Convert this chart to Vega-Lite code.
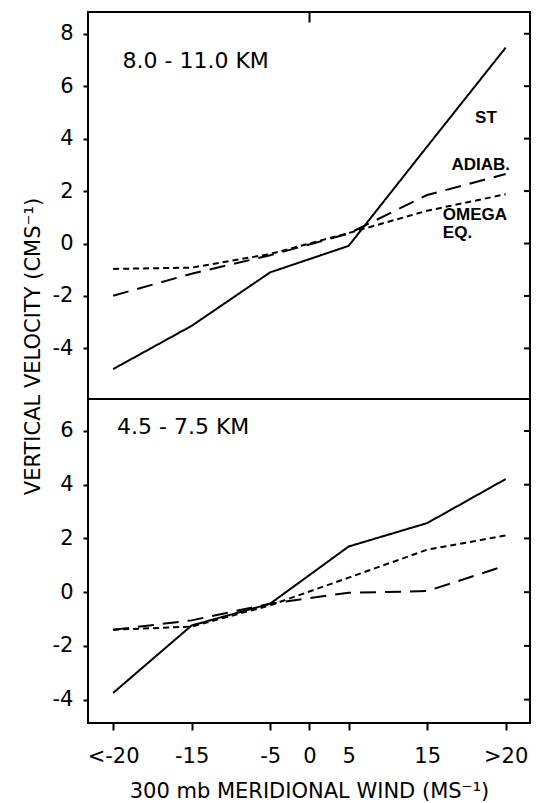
{
  "$schema": "https://vega.github.io/schema/vega-lite/v6.json",
  "padding": {"left": 21, "top": 10, "right": 8, "bottom": 2},
  "spacing": 0,
  "bounds": "flush",
  "config": {
    "view": {"stroke": "black", "strokeWidth": 2},
    "axis": {
      "labelFont": "DejaVu Sans", "labelFontSize": 21, "labelColor": "black",
      "titleFont": "DejaVu Sans", "titleFontSize": 21, "titleFontWeight": "normal", "titleColor": "black",
      "tickColor": "black", "tickWidth": 2, "domain": false, "grid": false
    },
    "text": {"font": "DejaVu Sans", "color": "black"}
  },
  "datasets": {
    "top": [
      {"method": "ST", "wind": "<-20", "xi": 0, "w": -4.79},
      {"method": "ST", "wind": "-15", "xi": 1, "w": -3.14},
      {"method": "ST", "wind": "-5", "xi": 2, "w": -1.10},
      {"method": "ST", "wind": "5", "xi": 3, "w": -0.09},
      {"method": "ST", "wind": "15", "xi": 4, "w": 3.70},
      {"method": "ST", "wind": ">20", "xi": 5, "w": 7.47},
      {"method": "ADIAB", "wind": "<-20", "xi": 0, "w": -1.99},
      {"method": "ADIAB", "wind": "-15", "xi": 1, "w": -1.15},
      {"method": "ADIAB", "wind": "-5", "xi": 2, "w": -0.45},
      {"method": "ADIAB", "wind": "5", "xi": 3, "w": 0.38},
      {"method": "ADIAB", "wind": "15", "xi": 4, "w": 1.85},
      {"method": "ADIAB", "wind": ">20", "xi": 5, "w": 2.65},
      {"method": "OMEGA", "wind": "<-20", "xi": 0, "w": -0.97},
      {"method": "OMEGA", "wind": "-15", "xi": 1, "w": -0.92},
      {"method": "OMEGA", "wind": "-5", "xi": 2, "w": -0.40},
      {"method": "OMEGA", "wind": "5", "xi": 3, "w": 0.40},
      {"method": "OMEGA", "wind": "15", "xi": 4, "w": 1.25},
      {"method": "OMEGA", "wind": ">20", "xi": 5, "w": 1.88}
    ],
    "bot": [
      {"method": "ST", "wind": "<-20", "xi": 0, "w": -3.75},
      {"method": "ST", "wind": "-15", "xi": 1, "w": -1.24},
      {"method": "ST", "wind": "-5", "xi": 2, "w": -0.43},
      {"method": "ST", "wind": "5", "xi": 3, "w": 1.70},
      {"method": "ST", "wind": "15", "xi": 4, "w": 2.57},
      {"method": "ST", "wind": ">20", "xi": 5, "w": 4.21},
      {"method": "ADIAB", "wind": "<-20", "xi": 0, "w": -1.40},
      {"method": "ADIAB", "wind": "-15", "xi": 1, "w": -1.05},
      {"method": "ADIAB", "wind": "-5", "xi": 2, "w": -0.43},
      {"method": "ADIAB", "wind": "5", "xi": 3, "w": -0.02},
      {"method": "ADIAB", "wind": "15", "xi": 4, "w": 0.04},
      {"method": "ADIAB", "wind": ">20", "xi": 5, "w": 0.99},
      {"method": "OMEGA", "wind": "<-20", "xi": 0, "w": -1.40},
      {"method": "OMEGA", "wind": "-15", "xi": 1, "w": -1.28},
      {"method": "OMEGA", "wind": "-5", "xi": 2, "w": -0.49},
      {"method": "OMEGA", "wind": "5", "xi": 3, "w": 0.54},
      {"method": "OMEGA", "wind": "15", "xi": 4, "w": 1.58},
      {"method": "OMEGA", "wind": ">20", "xi": 5, "w": 2.11}
    ],
    "topTicks": [{"t": -4}, {"t": -2}, {"t": 0}, {"t": 2}, {"t": 4}, {"t": 6}, {"t": 8}],
    "botTicks": [{"t": -4}, {"t": -2}, {"t": 0}, {"t": 2}, {"t": 4}, {"t": 6}],
    "topTitle": [{"text": "8.0 - 11.0 KM", "xi": 0.12, "w": 6.96}],
    "botTitle": [{"text": "4.5 - 7.5 KM", "xi": 0.05, "w": 6.14}],
    "curveLabels": [
      {"text": "ST", "xi": 4.61, "w": 4.77},
      {"text": "ADIAB.", "xi": 4.31, "w": 2.98},
      {"text": "OMEGA", "xi": 4.2, "w": 1.10},
      {"text": "EQ.", "xi": 4.2, "w": 0.40}
    ]
  },
  "vconcat": [
    {
      "width": 442,
      "height": 387,
      "layer": [
        {
          "data": {"name": "top"},
          "mark": {"type": "line", "strokeWidth": 2, "color": "black"},
          "encoding": {
            "x": {"field": "xi", "type": "quantitative",
              "scale": {"domain": [-0.32, 5.31], "nice": false, "zero": false},
              "axis": {"orient": "top", "values": [2.5], "labels": false, "tickSize": 10, "offset": -10, "title": null}},
            "y": {"field": "w", "type": "quantitative",
              "scale": {"domain": [-5.93, 8.83], "nice": false, "zero": false},
              "axis": {"orient": "left", "values": [-4, -2, 0, 2, 4, 6, 8], "tickSize": 5, "labelPadding": 10,
                "labelExpr": "datum.value < 0 ? '-' + abs(datum.value) : '' + datum.value",
                "title": "VERTICAL VELOCITY (CMS⁻¹)", "titleX": -55, "titleY": 334, "titleAngle": -90,
                "titleAlign": "center", "titleBaseline": "middle"}},
            "strokeDash": {"field": "method", "type": "nominal",
              "scale": {"domain": ["ST", "ADIAB", "OMEGA"], "range": [[1, 0], [16, 9], [6, 4]]}, "legend": null}
          }
        },
        {
          "mark": {"type": "rule", "strokeWidth": 1.5, "color": "black"},
          "encoding": {"y": {"datum": 0}}
        },
        {
          "data": {"name": "topTicks"},
          "mark": {"type": "rule", "strokeWidth": 2, "color": "black"},
          "encoding": {
            "x": {"datum": 5.234},
            "x2": {"datum": 5.31},
            "y": {"field": "t", "type": "quantitative"}
          }
        },
        {
          "data": {"name": "topTitle"},
          "mark": {"type": "text", "align": "left", "baseline": "middle", "fontSize": 22},
          "encoding": {
            "x": {"field": "xi", "type": "quantitative"},
            "y": {"field": "w", "type": "quantitative"},
            "text": {"field": "text"}
          }
        },
        {
          "data": {"name": "curveLabels"},
          "mark": {"type": "text", "align": "left", "baseline": "middle", "fontSize": 17, "font": "Liberation Sans", "fontWeight": "bold"},
          "encoding": {
            "x": {"field": "xi", "type": "quantitative"},
            "y": {"field": "w", "type": "quantitative"},
            "text": {"field": "text"}
          }
        }
      ]
    },
    {
      "width": 442,
      "height": 324,
      "layer": [
        {
          "data": {"name": "bot"},
          "mark": {"type": "line", "strokeWidth": 2, "color": "black"},
          "encoding": {
            "x": {"field": "xi", "type": "quantitative",
              "scale": {"domain": [-0.32, 5.31], "nice": false, "zero": false},
              "axis": {"orient": "bottom", "values": [0, 1, 2, 2.5, 3, 4, 5], "tickSize": 7, "labelPadding": 15, "titlePadding": 14,
                "labelExpr": "datum.value == 0 ? '<-20' : datum.value == 1 ? '-15' : datum.value == 2 ? '-5' : datum.value == 2.5 ? '0' : datum.value == 3 ? '5' : datum.value == 4 ? '15' : '>20'",
                "title": "300 mb MERIDIONAL WIND (MS⁻¹)"}},
            "y": {"field": "w", "type": "quantitative",
              "scale": {"domain": [-4.87, 7.19], "nice": false, "zero": false},
              "axis": {"orient": "left", "values": [-4, -2, 0, 2, 4, 6], "tickSize": 5, "labelPadding": 10, "title": null,
                "labelExpr": "datum.value < 0 ? '-' + abs(datum.value) : '' + datum.value"}},
            "strokeDash": {"field": "method", "type": "nominal",
              "scale": {"domain": ["ST", "ADIAB", "OMEGA"], "range": [[1, 0], [16, 9], [6, 4]]}, "legend": null}
          }
        },
        {
          "mark": {"type": "rule", "strokeWidth": 1.5, "color": "black"},
          "encoding": {"y": {"datum": 0}}
        },
        {
          "data": {"name": "botTicks"},
          "mark": {"type": "rule", "strokeWidth": 2, "color": "black"},
          "encoding": {
            "x": {"datum": 5.234},
            "x2": {"datum": 5.31},
            "y": {"field": "t", "type": "quantitative"}
          }
        },
        {
          "data": {"name": "botTitle"},
          "mark": {"type": "text", "align": "left", "baseline": "middle", "fontSize": 22},
          "encoding": {
            "x": {"field": "xi", "type": "quantitative"},
            "y": {"field": "w", "type": "quantitative"},
            "text": {"field": "text"}
          }
        }
      ]
    }
  ]
}
